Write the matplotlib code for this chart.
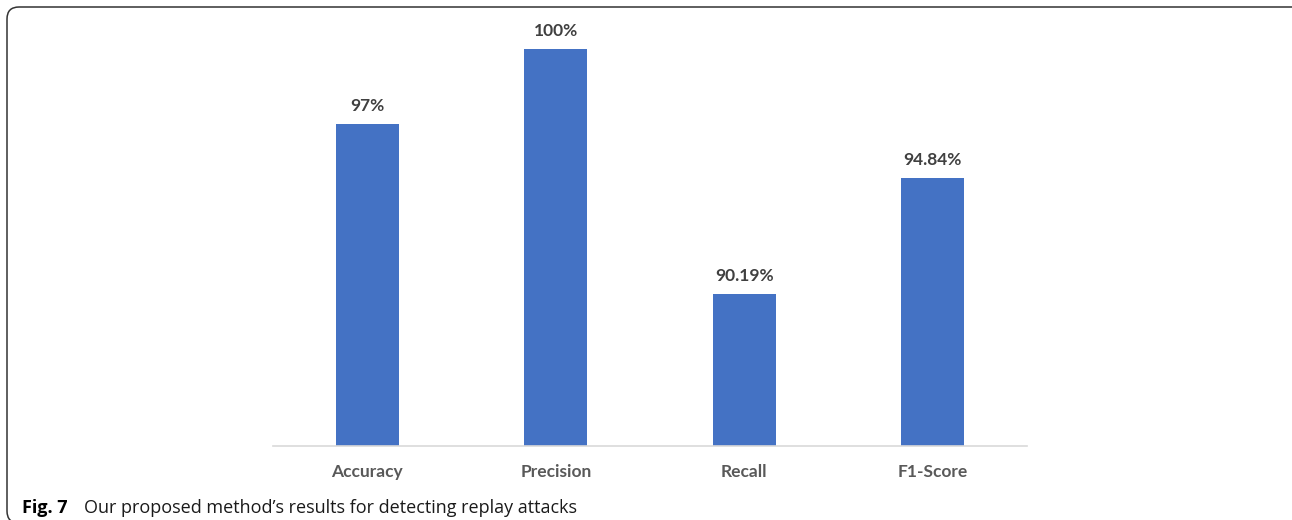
import matplotlib.pyplot as plt
from matplotlib.patches import FancyBboxPatch
from matplotlib.transforms import IdentityTransform

# --- Data ---
metrics = ['Accuracy', 'Precision', 'Recall', 'F1-Score']
scores = [97, 100, 90.19, 94.84]
score_labels = ['97%', '100%', '90.19%', '94.84%']

# --- Figure layout (pixels at 100 dpi) ---
W, H = 1292, 520
fig = plt.figure(figsize=(W / 100, H / 100), dpi=100)
ax = fig.add_axes([273 / W, 74 / H, 754 / W, (446 - 49.3) / H])

bar_color = '#4472C4'
x = range(len(metrics))
ax.bar(x, scores, width=0.332, color=bar_color, zorder=2)

ax.set_xlim(-0.5, len(metrics) - 0.5)
ax.set_ylim(84.07, 100)

# value labels above each bar
for xi, v, lab in zip(x, scores, score_labels):
    ax.annotate(lab, (xi, v), xytext=(0, 13), textcoords='offset points',
                ha='center', va='center', fontsize=12.5, fontweight='bold',
                family='Lato', color='#404040', annotation_clip=False)

# only the baseline is kept
for side in ['top', 'right', 'left']:
    ax.spines[side].set_visible(False)
ax.spines['bottom'].set_color('#d9d9d9')
ax.spines['bottom'].set_linewidth(1.2)
ax.set_yticks([])
ax.set_xticks(list(x))
ax.set_xticklabels(metrics, fontsize=12.5, fontweight='bold', family='Lato',
                   color='#595959')
ax.tick_params(axis='x', length=0, pad=13)

# caption
fig.text(22 / W, (H - 513) / H, 'Fig. 7', fontsize=13, fontweight='bold',
         family='Open Sans', color='black', va='baseline', ha='left')
fig.text(84 / W, (H - 513) / H,
         'Our proposed method\u2019s results for detecting replay attacks',
         fontsize=13, family='Open Sans', color='#1a1a1a',
         va='baseline', ha='left')

# rounded frame around the figure
frame = FancyBboxPatch((7 + 12, -3 + 12), 1300 - 24, 516 - 24,
                       boxstyle='round,pad=12,rounding_size=12',
                       transform=IdentityTransform(), fill=False,
                       edgecolor='#333333', linewidth=1.1)
fig.add_artist(frame)

fig.savefig('out.png', dpi=100, facecolor='white')
